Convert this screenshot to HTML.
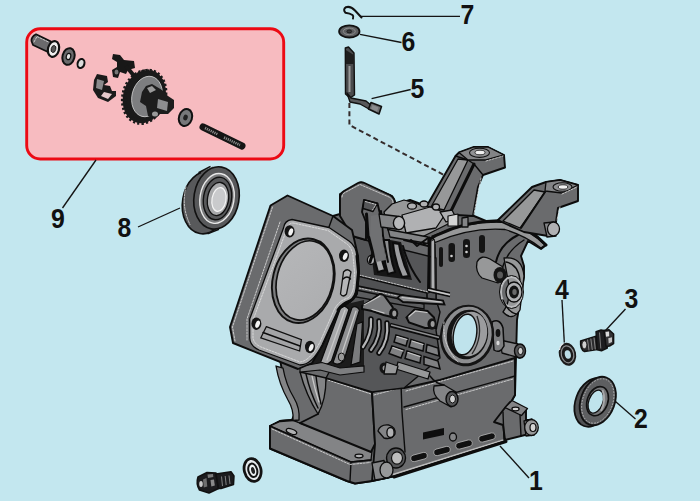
<!DOCTYPE html>
<html>
<head>
<meta charset="utf-8">
<title>Crankcase parts diagram</title>
<style>
html,body{margin:0;padding:0;background:#c3e7ef;}
body{width:700px;height:501px;overflow:hidden;font-family:"Liberation Sans",sans-serif;}
svg{display:block;}
.lbl{font-family:"Liberation Sans",sans-serif;font-weight:bold;font-size:27px;fill:#111;}
.ld{stroke:#141414;stroke-width:1.35;fill:none;}
.d{fill:#6a6b6d;stroke:#0c0c0c;stroke-width:1.9;stroke-linejoin:round;}
.d2{fill:#555658;stroke:#0c0c0c;stroke-width:1.4;stroke-linejoin:round;}
.m{fill:#838486;stroke:#0c0c0c;stroke-width:1.3;stroke-linejoin:round;}
.m2{fill:#979899;stroke:#0c0c0c;stroke-width:1.3;stroke-linejoin:round;}
.l{fill:#b0b1b3;stroke:#0c0c0c;stroke-width:1.3;stroke-linejoin:round;}
.w{fill:#d4d4d4;stroke:#0c0c0c;stroke-width:1.2;stroke-linejoin:round;}
.k{fill:#141414;stroke:none;}
.ln{fill:none;stroke:#0c0c0c;stroke-width:1.4;stroke-linecap:round;stroke-linejoin:round;}
.l2{fill:none;stroke:#0c0c0c;stroke-width:2;stroke-linecap:round;stroke-linejoin:round;}
.lt{fill:none;stroke:#0c0c0c;stroke-width:3;stroke-linecap:round;stroke-linejoin:round;}
.hl{fill:none;stroke:#e2e2e2;stroke-width:0.8;stroke-dasharray:2 1.3;stroke-linecap:round;}
.hs{fill:none;stroke:#c9c9c9;stroke-width:1.2;stroke-linecap:round;}
</style>
</head>
<body>
<svg width="700" height="501" viewBox="0 0 700 501">
<defs>
<linearGradient id="bore" x1="0" y1="0" x2="1" y2="1">
<stop offset="0" stop-color="#b6b7b9"/><stop offset="1" stop-color="#acadaf"/>
</linearGradient>
</defs>
<rect x="0" y="0" width="700" height="501" fill="#c3e7ef"/>
<g id="pinkbox">
<rect x="26.700" y="28.700" width="257" height="130.300" rx="13.500" ry="13.500" fill="#f7bbc0" stroke="#ec0a14" stroke-width="2.900"/>
</g>
<g id="leaders">
<path class="ld" d="M96 160 L62.500 208"/>
<path class="ld" d="M138 227 L180 208"/>
<path class="ld" d="M361 16.400 L460 16.400"/>
<path class="ld" d="M360 34.4 L401.5 42.5"/>
<path class="ld" d="M371.6 98.7 L410.7 89.5"/>
<path class="ld" d="M562 300 L564.300 342.500"/>
<path class="ld" d="M625.500 309 L605.500 330.500"/>
<path class="ld" d="M615.500 401.500 L635.500 419"/>
<path class="ld" d="M500 446 L529 478"/>
<path d="M349.400 103 L349.400 125 L445 175.500" fill="none" stroke="#352c2c" stroke-width="2" stroke-dasharray="5 3.200"/>
</g>

<g id="engine">
<!-- ===== main body silhouette ===== -->
<path class="d" d="M333 216 L340 214 L340 194 L361 182.5 L392 196 L396 204 L410 200 L426 206 L440 212 L474 216 L486 221 L506 224 L524 232 L545 246 L541 249 L528 241 L521 256 L524 266 L524 277 L517 320 L515 395 L511 402 L505 440 L395 476 L372 481 L355 483.5 L347 481 L270 448.5 L270 426 L280 421 L292 420 L296 411 L290 395 L283 375 L280 360 Z"/>


<!-- ===== base plate ===== -->
<path class="d" d="M270 426 L280 421 L292 420 L352 446 L372 443 L396 452 L396 470 L372 481 L355 483.500 L347 481 L270 448.500 Z"/>
<path class="m" d="M270 426 L280 421.500 L293 420.500 L372 451 L371 460 L351 462 Z" fill="#6a6b6d"/>
<path class="ln" d="M270 426 L351 462 L371 460 M351 462 L350 481"/>
<path class="hl" d="M272 429 L350 464.500 L370 462.500"/>
<ellipse cx="291.500" cy="431.500" rx="5.500" ry="2.400" class="l" transform="rotate(20 291.500 431.500)"/>
<ellipse cx="359" cy="456" rx="4" ry="1.800" class="l"/>
<!-- front panel -->
<path class="d" d="M326 378 L372 392 L375 444 L371 452 L300 423 L318 414 Z"/>
<path class="hl" d="M328 380 L371 394"/>
<!-- web / left wall -->
<path class="m" d="M276 366 L283 368 Q286 385 294 398 Q300 408 299 420 L293 420.500 Q294 410 288 400 Q279 384 276 366 Z" fill="#8a8b8d"/>
<path class="m" d="M300 372 Q306 395 318 414 Q326 400 326 378 Z" fill="#6c6d6f"/>
<path class="ln" d="M306 374 Q310 392 318 408 M316 376 Q318 392 321 404"/>
<path class="hs" d="M312 376 Q315 390 319 402" stroke="#ececec" stroke-width="1.600"/>
<!-- right big panel -->
<path class="d" d="M372 392 L401 384 L404 388 L440 380 L515 358 L515 395 L511 402 L505 440 L395 476 L372 481 L375 444 Z"/>
<path class="ln" d="M401 384 L402 412 L405 452"/>
<path class="hl" d="M374 395 L400 388 M406 391 L513 361"/>
<path class="ln" d="M404 407 L515 376"/>
<path class="hl" d="M406 409.500 L513 379"/>
<!-- slots -->
<g fill="#101010" stroke="#bdbdbd" stroke-width="0.700">
<rect x="-8.500" y="-3.300" width="17" height="6.600" rx="3.200" transform="translate(419 457) rotate(-15)"/>
<rect x="-8.500" y="-3.300" width="17" height="6.600" rx="3.200" transform="translate(442 451) rotate(-15)"/>
<rect x="-8.500" y="-3.300" width="17" height="6.600" rx="3.200" transform="translate(464 444.500) rotate(-15)"/>
<rect x="-8.500" y="-3.300" width="17" height="6.600" rx="3.200" transform="translate(487 437.500) rotate(-15)"/>
</g>
<path d="M393 474.500 L505 439.500" stroke="#bcbcbc" stroke-width="1.600" fill="none"/>
<path class="lt" d="M394 477 L506 441.500" stroke-width="2.200"/>
<path d="M423 432.500 L444 428 L444 435 L423 439.500 Z" fill="#0e0e0e"/>
<ellipse cx="453" cy="437" rx="3.500" ry="4" class="m"/>
<!-- plug on left -->
<path class="m" d="M378 431 Q380 424 389 425 Q396 427 395 434 Q392 440 384 438 Z"/>
<ellipse cx="390.500" cy="432.500" rx="3.600" ry="5" class="l"/>
<!-- lower-left bosses -->
<ellipse cx="396" cy="458" rx="9.500" ry="10" class="d2"/>
<ellipse cx="397" cy="458" rx="5.500" ry="6.200" fill="#bdbdbd" stroke="#111" stroke-width="1.200"/>
<path class="m" d="M372 463 L384 460.500 L388 478 L375 480 Z"/>
<ellipse cx="386.500" cy="470" rx="6.500" ry="8" class="m2"/>
<!-- right foot -->
<path class="d" d="M494 422 L504 409 L510 402 L526 410 L526 420 L529 420 L529 434 L505 440 L503 425 Z"/>
<path class="m" d="M505 407.500 L512 400.500 L527.500 408.500 L521.500 415.500 Z"/>
<ellipse cx="515.500" cy="409" rx="3.600" ry="1.800" class="w"/>
<path class="ln" d="M503 412 L504 440 M520 415 L521 436"/>
<path class="m" d="M524 421 L532 419 L534 435 L526 436 Z"/>
<ellipse cx="531.500" cy="427.500" rx="6.800" ry="8" class="m2"/>
<ellipse cx="533" cy="427.500" rx="3" ry="4" class="w"/>
<!-- stubs -->
<path class="m" d="M434 386 Q432 394 440 401 L451 407 L456 392 L444 385 Z"/>
<ellipse cx="452" cy="399" rx="6" ry="7.500" class="d2"/><ellipse cx="452.500" cy="399" rx="3" ry="4" fill="#cfcfcf" stroke="#111" stroke-width="1"/>
<path class="ln" d="M430 376 Q436 384 444 385"/>
<path class="m" d="M500 340 L518 344 L520 358 L502 353 Z"/>
<ellipse cx="520" cy="351" rx="5.500" ry="7" class="d2"/><ellipse cx="520.500" cy="351" rx="2.600" ry="3.600" fill="#cfcfcf" stroke="#111" stroke-width="1"/>

<!-- ===== cover: top strip and curves ===== -->
<path class="m2" d="M432 236 Q470 220 506 222.500 Q530 230 545 245 L541 248 Q526 236 505 229.500 Q470 227 435 242.500 Z" fill="#8a8b8d"/>
<path class="lt" d="M424 244 Q430 238.500 436 235.500 Q470 219 506 221 Q530 228 546 245"/>
<path class="l2" d="M518 235 Q500 244 496 262"/>
<path class="ln" d="M524 240 Q508 250 503 266"/>
<path class="ln" d="M435 244 L436 300"/>
<!-- slots on cover -->
<g fill="#141414">
<rect x="448.500" y="243" width="6.500" height="19" rx="3"/>
<rect x="463" y="239" width="7" height="19" rx="3.300"/>
<rect x="479" y="235" width="6" height="18" rx="3"/>
<rect x="439" y="247" width="4" height="20" rx="2"/>
</g>
<g fill="#d0d0d0"><circle cx="451.500" cy="256" r="1.300"/><circle cx="466.500" cy="246" r="1.300"/><circle cx="466.500" cy="252" r="1.300"/></g>
<!-- hex boss -->
<path class="m2" d="M477 262 Q481 254 490 259 L503 267 L498 283 L482 278 Q475 272 477 262 Z"/>
<ellipse cx="500" cy="275" rx="6.500" ry="8" class="k"/><ellipse cx="500" cy="275" rx="3" ry="3.600" fill="#5a5a5a"/>
<!-- right ring stack -->
<path class="m2" d="M504 258 Q522 256 524 276 L520 310 Q512 322 503 312 Q512 300 508 280 Z"/>
<ellipse cx="511.500" cy="292" rx="10.500" ry="15" fill="none" stroke="#b9babc" stroke-width="2"/>
<ellipse cx="511.500" cy="292" rx="12" ry="16.500" fill="none" stroke="#0c0c0c" stroke-width="1"/>
<ellipse cx="514" cy="292" rx="8" ry="10" class="l"/>
<ellipse cx="514" cy="292" rx="5" ry="6.500" class="k"/><ellipse cx="514.500" cy="292" rx="2.200" ry="3" fill="#6a6a6a"/>
<path class="ln" d="M506 262 Q518 264 520 280 M503 300 Q508 312 516 314"/>

<path d="M492 322 Q500 318 503 328 L504 346 Q500 354 494 350 Z" fill="#7c7d7f" stroke="#0c0c0c" stroke-width="1.500"/>
<ellipse cx="498" cy="333" rx="2.400" ry="4" class="k"/>
<ellipse cx="498" cy="343" rx="1.600" ry="2.200" fill="#d8d8d8"/>
<!-- ===== bearing opening ===== -->
<ellipse cx="467" cy="335.500" rx="27" ry="31" class="k" transform="rotate(12 467 335.500)"/>
<ellipse cx="467" cy="335" rx="24.500" ry="28.500" fill="#8d8e90" transform="rotate(12 467 335)"/>
<ellipse cx="467.500" cy="334.500" rx="20.500" ry="25" class="k" transform="rotate(12 467.500 334.500)"/>
<ellipse cx="469.500" cy="334" rx="17.500" ry="22.500" fill="#9b9c9e" transform="rotate(12 469.500 334)"/>
<ellipse cx="465" cy="334.500" rx="11.500" ry="20.500" fill="#bfe3ec" stroke="#111" stroke-width="1.400" transform="rotate(10 465 334.500)"/>
<path d="M477 316 Q484 336 472 354" fill="none" stroke="#2a2a2a" stroke-width="1.300"/>
<path class="hl" d="M444 322 Q442 345 458 362"/>

<!-- ===== mid block (between head and cover) ===== -->
<path class="d2" d="M352 236 L372 242 L436 258 L436 300 L440 312 L436 330 L440 358 L404 388 L372 392 L326 378 L340 352 Z" fill="#727375"/>
<!-- fins right of head -->
<g>
<path d="M338 306 L364 300 L364 366 L300 372 L300 366 L322 345 Z" fill="#1c1c1c"/>
<path d="M340.500 308 Q345 304 349 309.500 L331.500 361 Q326 367 320.500 362.500 Z" fill="#a6a7a9" stroke="#0c0c0c" stroke-width="1.300"/>
<path d="M352 307.500 Q356.500 305 359.500 310 L344 360.500 Q338 366.500 333 362.500 Z" fill="#8e8f91" stroke="#0c0c0c" stroke-width="1.300"/>
<path d="M357 324 L362.500 322 L360 362 L351 365 Z" fill="#7a7b7d" stroke="#0c0c0c" stroke-width="1.200"/>
<path class="hs" d="M345 310 L327 360 M356 311 L340 359" stroke="#dcdcdc" stroke-width="1"/>
<ellipse cx="341.500" cy="357" rx="3.200" ry="4" fill="#9a9a9a" stroke="#111" stroke-width="1"/>
<path d="M300 366.500 L322 362.500 L340 368 L364 366 L364 372 L340 375 L320 370 L300 372 Z" fill="#7d7e80" stroke="#0c0c0c" stroke-width="1.200"/>
</g>
<!-- pushrod / valve guides -->
<path d="M369 236 L401 242 L412 280 L374 275 Z" fill="#161616"/>
<path d="M373 238 L379 237 Q380 256 385 270 L378 272 Q373 256 373 238 Z" fill="#a6a7a9" stroke="#0c0c0c" stroke-width="2"/>
<path d="M383 240 L389 240 Q390 258 395 272 L388 274 Q383 258 383 240 Z" fill="#8e8f91" stroke="#0c0c0c" stroke-width="2"/>
<path d="M393 243 L399 244 Q402 262 409 276 L402 277 Q395 262 393 243 Z" fill="#9c9d9f" stroke="#0c0c0c" stroke-width="2"/>
<path class="l2" d="M403 246 Q408 266 420 282 M404 240 L428 246"/>
<path d="M431 241 L434.500 239.500 L435 290 L431 290 Z" fill="#b0b1b3" stroke="#0c0c0c" stroke-width="0.800"/>
<path class="lt" d="M429.500 238 L428.500 292"/>
<ellipse cx="371" cy="260" rx="3.600" ry="4.500" class="l"/>
<!-- top fin band -->
<path d="M358 276 L427 293 L427 300 L358 286 Z" fill="#505153" stroke="#0c0c0c" stroke-width="1.600"/>
<path d="M356 290 L424 304 L424 309 L356 297 Z" fill="#5c5d5f" stroke="#0c0c0c" stroke-width="1.300"/>
<path class="hl" d="M359 275 L428 292 M359 288 L426 302"/>
<!-- ribs mid -->
<!-- lug 1 -->
<path d="M362 306 L372 299.500 L379.500 294 Q384 294 386 298 L392.500 307 L396 318 L383.500 315 L372 311 L362 309 Z" fill="#7b7c7e" stroke="#0c0c0c" stroke-width="2"/>
<path class="hs" d="M364 305 L373 300 L380 296 M372 309.500 L384 313" stroke="#cfcfcf"/>
<ellipse cx="393.700" cy="313.500" rx="4.600" ry="5.700" class="k"/><ellipse cx="394.300" cy="313.500" rx="2" ry="3" fill="#9c9c9c"/>
<!-- elongated rib -->
<path d="M397.500 298 Q400 294.500 404 295.400 L443 300.500 L444.500 304.500 L403 302 Z" fill="#8c8d8f" stroke="#0c0c0c" stroke-width="1.800"/>
<path class="hs" d="M402 297.500 L441 302" stroke="#d6d6d6" stroke-width="1"/>
<path d="M428 288 L450 293 M428 291.500 L450 296.500" stroke="#0c0c0c" stroke-width="1.600" fill="none"/>
<path d="M428 289.800 L450 294.800" stroke="#c9c9c9" stroke-width="1.400" fill="none"/>
<!-- lug 2 -->
<path d="M406.500 317.500 L414.500 309.500 L427.500 311 L434 317.500 L436 328 L425 328 L409 322.500 Z" fill="#77787a" stroke="#0c0c0c" stroke-width="2"/>
<path class="hs" d="M409 316.500 L415.500 311 L427 312.500" stroke="#cfcfcf"/>
<ellipse cx="432" cy="324" rx="4.600" ry="5.700" class="k"/><ellipse cx="432.600" cy="324" rx="2" ry="3" fill="#9c9c9c"/>
<!-- strut between lugs -->
<path d="M390 325 L440 338" stroke="#0c0c0c" stroke-width="4.500" fill="none"/>
<path d="M391 325 L439 337.500" stroke="#8e8f91" stroke-width="1.600" fill="none"/>
<!-- curved tubes -->
<g fill="none" stroke-linecap="round">
<path d="M371 319 Q372 334 363 347" stroke="#0c0c0c" stroke-width="5.500"/>
<path d="M371 319 Q372 334 363 347" stroke="#b4b5b7" stroke-width="2.200"/>
<path d="M379 321 Q381 337 371 350" stroke="#0c0c0c" stroke-width="5.500"/>
<path d="M379 321 Q381 337 371 350" stroke="#a2a3a5" stroke-width="2.200"/>
<path d="M387 323 Q389 340 379 353" stroke="#0c0c0c" stroke-width="5.500"/>
<path d="M387 323 Q389 340 379 353" stroke="#b4b5b7" stroke-width="2.200"/>
</g>
<!-- radiating ribs -->
<g stroke="#0c0c0c" stroke-width="1.500" fill="#808183">
<path d="M396 335 L408 338.500 L406 346 L394 342 Z"/>
<path d="M411 339.500 L424 343.500 L423 351 L409 347 Z"/>
<path d="M427 344.500 L438 348 L439 356 L426 352 Z"/>
<path d="M392 346 L404 350 L401 358 L389 353.500 Z"/>
<path d="M407 351 L421 355.500 L420 363 L405 358.500 Z"/>
<path d="M424 356.500 L438 361 L440 369 L424 364.500 Z"/>
</g>
<path class="hs" d="M397 336.500 L407 339.500 M412 341 L423 344.500 M393 347.500 L403 351 M408 352.500 L420 356.500" stroke="#cdcdcd" stroke-width="0.900"/>
<path class="m2" d="M398 362 L430 372 L428 379 L396 369 Z" fill="#7d7e80"/>
<ellipse cx="384" cy="368" rx="4.500" ry="5.500" class="k"/><ellipse cx="384.500" cy="368" rx="2" ry="2.600" fill="#9a9a9a"/>
<path class="m2" d="M386 362 L398 366 L396 374 L384 374 Z" fill="#9a9b9d"/>
<path class="ln" d="M352 236 L356 290"/>

<!-- ===== ARM 2 (right) ===== -->
<path class="d" d="M498 220 L532 187 L546 182 L560 180 L578 185 L578 201 L558 208 L556 222 L548 236 L524 232 L506 224 Z"/>
<path class="m2" d="M503 221 L534 190 L545 192 L520 228 Z" stroke-width="1"/>
<path class="l2" d="M545 192 L521 228"/>
<path class="m" d="M546 182 L560 180 L578 185 L562 193 L545 191 Z" stroke-width="1.2"/>
<ellipse cx="562.5" cy="187" rx="9.5" ry="4.3" fill="#909193" stroke="#111" stroke-width="1.1"/>
<ellipse cx="563" cy="187" rx="4.8" ry="2.2" fill="#f0f0f0" stroke="#111" stroke-width="0.8"/>
<path class="hl" d="M562 194 L577 187 M560 207 L557 220"/>
<!-- knob -->
<path class="m" d="M544 223 L554 222 L556 236 L547 237 Z"/>
<ellipse cx="553.500" cy="229" rx="6" ry="7" class="l"/>

<!-- ===== ARM 1 (left) ===== -->
<path class="d" d="M425 209 L455.5 156 L459 152.5 L474 147 L488 147 L504 155 L505 167.5 L483 175 L478 187 L473 216 L440 214 Z"/>
<path class="m2" d="M431 207 L458 159 L468 160 L444 210 Z" stroke-width="1"/>
<path class="lt" d="M474 164 L450 213"/>
<path class="ln" d="M455.5 156 L468 160 L474 164 L483 175"/>
<path class="m" d="M459 152.5 L474 147 L488 147 L504 155 L486 160 L468 160 Z" stroke-width="1.2"/>
<ellipse cx="479.5" cy="152.8" rx="10" ry="4.6" fill="#909193" stroke="#111" stroke-width="1.1"/>
<ellipse cx="480" cy="152.5" rx="5" ry="2.3" fill="#f0f0f0" stroke="#111" stroke-width="0.8"/>
<path class="hl" d="M486 161 L503 156 M481 178 L474 214"/>

<!-- ===== upper-left boss ===== -->
<path class="d" d="M340 216 L340 198 Q340 193.500 344 191 L358 183 Q361 181.500 364.500 183 L390 195 Q395 198 395 203 L395 213 L381 218 L377.500 203.500 L364 200 L362 212 L366 222 L366 240 L352 236 Z"/>
<path class="d2" d="M364 200 L377.500 203.500 L373 211.500 L363 208.500 Z"/>
<path class="hl" d="M342 197 Q342 194 345 192.500 L360 184.500 L389 197 Q393 199 393 203"/>
<path class="hl" d="M365.500 201.500 L376 204.500 L372.500 210"/>
<path class="lt" d="M366.500 214 L368 236 L373 253 L370 262"/>
<path class="l2" d="M381 211 L383 236 L388 262"/>
<path d="M371 216 L380 214 L382 236 L386 260 L376 262 L374 252 L370 236 Z" fill="#707173"/>
<!-- middle top clutter -->
<path class="m2" d="M384 212 L392 204 L404 200 L418 204 L430 207 L440 212 L452 214 L452 222 L436 230 L420 238 L404 236 L388 230 Z" fill="#8a8b8d"/>
<path class="l" d="M402 215 L430 207 L446 213 L436 228 L406 233 Z" fill="#9c9d9f"/>
<path class="m" d="M379 214 L399 216.500 L399 229.500 L381 227 Z" fill="#6f7072"/>
<ellipse cx="399" cy="223" rx="5.600" ry="6.600" fill="#b8b9bb" stroke="#0c0c0c" stroke-width="1.400"/>
<path class="m" d="M388 229.500 L428 237 L428 243.500 L390 237 Z" fill="#6c6d6f"/>
<path class="l2" d="M411 240 L417 246 L428 238"/>
<ellipse cx="412" cy="206" rx="4.500" ry="3.200" class="l"/>
<ellipse cx="424" cy="204" rx="4" ry="3" class="l"/>
<ellipse cx="436" cy="207" rx="3.500" ry="3" class="l"/>
<path class="l" d="M440 212 L452 210 L456 218 L446 222 Z"/>
<path class="w" d="M448 216 L458 214 L458 226 L448 226 Z"/>
<path class="m" d="M462 218 L468 217 L468 227 L462 227 Z"/>
<!-- ===== cylinder head slab ===== -->
<path class="d" d="M270.500 205.500 L287.500 195.500 L333 216 L352 230 L358 256 L359 272 L357 294 L350 302 L339 309 L322 346 L312 363 L298 369 L233 343 L230 327 Z"/>
<path class="hl" d="M272.500 207 L232.500 327 L235 341 M280 222 L247 319 L247 340"/>
<path class="ln" d="M333 216 L329 227"/>
<!-- gasket face -->
<path class="m2" style="fill:#a9aaac" d="M283.500 228 Q284.500 220.500 292 219.500 L329 227.500 L349 241 Q356 246 357 256 L358.500 272 L357 288 Q356 298 350 301 Q342 304 338 310 L322 345 Q312 365 300 365 L259 350 Q250 346 249.700 338 L249.700 319 Z"/>
<path class="hl" d="M286.500 230 L253 320 L253 338 Q254 344 261 347 L300 362 Q310 361 320 342 L335 308 Q340 300 348 298 Q353 294 354 284 L354.500 272 L353 256 Q352 248 347 244 L328 230.500 L293 223 Q288 223 286.500 230"/>
<path class="lt" d="M357 256 L358.500 272 L357 288 Q356 298 350 301 Q342 304 338 310" stroke-width="2.400"/>
<!-- bore -->
<ellipse cx="303.300" cy="280.800" rx="30.500" ry="42.800" transform="rotate(14 303.300 280.800)" fill="#7c7d7f" stroke="#111" stroke-width="1.900"/>
<ellipse cx="304.800" cy="280.400" rx="27.900" ry="40.200" transform="rotate(14 304.800 280.400)" fill="url(#bore)" stroke="#111" stroke-width="1.700"/>
<!-- bolt holes -->
<g>
<ellipse cx="289.600" cy="231.400" rx="5" ry="6.200" class="k"/><ellipse cx="290.800" cy="232" rx="2.100" ry="3.800" fill="#f2f2f2" transform="rotate(20 290.800 232)"/>
<ellipse cx="344" cy="255.800" rx="5" ry="6.200" class="k"/><ellipse cx="345.200" cy="256.400" rx="2.100" ry="3.800" fill="#f2f2f2" transform="rotate(20 345.200 256.400)"/>
<ellipse cx="256.400" cy="323.700" rx="5" ry="6.200" class="k"/><ellipse cx="257.600" cy="324.300" rx="2.100" ry="3.800" fill="#f2f2f2" transform="rotate(20 257.600 324.300)"/>
<ellipse cx="310" cy="347" rx="5" ry="6.200" class="k"/><ellipse cx="311.200" cy="347.600" rx="2.100" ry="3.800" fill="#f2f2f2" transform="rotate(20 311.200 347.600)"/>
</g>
<!-- slot -->
<path d="M343.500 272 Q347.500 267.500 351 272 L346.500 294 Q343 298 340.500 294 Z" fill="#b5b6b8" stroke="#111" stroke-width="1.3"/>
<path class="ln" d="M343 279 Q347 275 350.500 279" stroke-width="1"/>
<!-- rectangle pad -->
<path d="M266.300 326.700 L301.400 339.600 L299.600 351 L260.800 337.800 Z" fill="#a3a4a6" stroke="#111" stroke-width="1.3"/>
<path class="ln" d="M263 332.500 L300 346" stroke-width="1"/>
</g>

<g id="parts">
<!-- ===== pink box contents ===== -->
<!-- sleeve -->
<path d="M31.500 41 Q31 37 36 34.300 L51 41.500 L48 52 L33 45 Z" fill="#6a6a6c" stroke="#111" stroke-width="1.800" stroke-linejoin="round"/>
<path class="hl" d="M34 42 L37 36.500 L48.500 42"/>
<ellipse cx="53.500" cy="49" rx="5.500" ry="8" fill="#f0f0f0" stroke="#111" stroke-width="2.200" transform="rotate(15 53.500 49)"/>
<ellipse cx="53.500" cy="49" rx="2.300" ry="3.600" fill="#555" stroke="#111" stroke-width="0.800" transform="rotate(15 53.500 49)"/>
<!-- washer a -->
<ellipse cx="68.500" cy="56.500" rx="6" ry="8.500" fill="#6a6a6c" stroke="#111" stroke-width="2" transform="rotate(15 68.500 56.500)"/>
<ellipse cx="68.500" cy="56.500" rx="2.200" ry="3.200" fill="#e5e5e5" stroke="#111" stroke-width="1.200" transform="rotate(15 68.500 56.500)"/>
<!-- small washer b -->
<ellipse cx="81" cy="63.500" rx="3.400" ry="4.600" fill="#ddd" stroke="#111" stroke-width="2" transform="rotate(15 81 63.500)"/>
<!-- clip -->
<path d="M97 74 L107 76 L108 82 L104 85 L110 86 L112 91 L116 91 L116 96 L108 102 L98 98 L93 90 L94 80 Z" fill="#1b1b1b"/>
<path d="M97 79 L104 81 L102 90 L96 88 Z" fill="#8a8a8c"/>
<path d="M104 92 L112 94 L108 99 L101 96 Z" fill="#e6c9cc"/>
<!-- arm piece -->
<path d="M113 54 L120 55 L124 60 L134 61 L135 68 L128 70 L126 74 L120 72 L118 78 L113 77 L112 70 L117 67 L117 62 L112 59 Z" fill="#181818"/>
<path d="M126 66 L139 82" stroke="#181818" stroke-width="4" fill="none"/>
<ellipse cx="116.500" cy="72" rx="2" ry="2.600" fill="#777"/>
<!-- gear -->
<g>
<ellipse cx="143.500" cy="97" rx="20.500" ry="26.500" transform="rotate(14 143.500 97)" fill="#1a1a1a" stroke="#1a1a1a" stroke-width="3.400" stroke-dasharray="2.200 2.100"/>
<ellipse cx="146" cy="95.500" rx="19.500" ry="25.500" transform="rotate(14 146 95.500)" fill="#1a1a1a" stroke="#1a1a1a" stroke-width="3" stroke-dasharray="2.200 2.100"/>
<ellipse cx="147" cy="96.500" rx="15" ry="20.500" transform="rotate(14 147 96.500)" fill="#7d7e80" stroke="#cfcfcf" stroke-width="0.800"/>
<path d="M146 86 L152 84 L162 90 L168 96 L174 100 L174 108 L168 114 L160 114 L156 118 L148 116 L146 106 L140 102 L142 92 Z" fill="#1d1d1d"/>
<path d="M158 99 L168 102 L167 111 L157 108 Z" fill="#8d8e90"/>
<path d="M147 88 L152 86 L156 90 L150 93 Z" fill="#9a9a9a"/>
<ellipse cx="155" cy="114" rx="3" ry="2.500" fill="#9a9a9a"/>
</g>
<!-- washer c -->
<ellipse cx="185.500" cy="117.500" rx="6.500" ry="8.600" fill="#77787a" stroke="#111" stroke-width="2" transform="rotate(18 185.500 117.500)"/>
<ellipse cx="185.500" cy="117.500" rx="2.200" ry="3" fill="#222" transform="rotate(18 185.500 117.500)"/>
<!-- shaft -->
<path d="M203 127 L242 146" stroke="#151515" stroke-width="7" stroke-linecap="round" fill="none"/>
<path d="M205 128 L218 134.500 M224 137.500 L240 145" stroke="#8a8a8a" stroke-width="2.600" stroke-dasharray="1.200 0.900" fill="none"/>

<!-- ===== 8: bearing ===== -->
<g transform="translate(0 -4.500) translate(0 204) scale(1 1.045) translate(0 -204)">
<ellipse cx="205" cy="207" rx="22.500" ry="30" transform="rotate(10 205 207)" fill="#58595b" stroke="#111" stroke-width="1.600"/>
<path d="M201 177.500 L213 172.500 L232 184 L218 231.500 L208 234 Z" fill="#58595b"/>
<path d="M198.500 178.300 L210.500 172.300 M207.500 236.800 L219 232.500" stroke="#111" stroke-width="1.600" fill="none"/>
<ellipse cx="216.500" cy="202.500" rx="22.500" ry="30" transform="rotate(10 216.500 202.500)" fill="#58595b" stroke="#111" stroke-width="1.600"/>
<ellipse cx="217" cy="203" rx="17" ry="24" transform="rotate(10 217 203)" fill="#7a7b7d" stroke="#e8e8e8" stroke-width="1.400"/>
<ellipse cx="217.500" cy="203" rx="14" ry="20.500" transform="rotate(10 217.500 203)" fill="#58595b" stroke="#111" stroke-width="1.400"/>
<ellipse cx="218" cy="203.500" rx="10.500" ry="16" transform="rotate(10 218 203.500)" fill="#a8a9ab" stroke="#111" stroke-width="1.300"/>
<ellipse cx="219" cy="204" rx="7" ry="11.500" transform="rotate(10 219 204)" fill="#c9cacc" stroke="#f4f4f4" stroke-width="1.200"/>
<path class="hl" d="M186 192 Q181 210 190 228"/>
</g>

<!-- ===== 7: clip ===== -->
<path d="M361.500 17.500 L355 10.500 Q350.500 5.800 346 7.200 Q342.500 9.500 345.500 12.800 Q350 13.500 352.500 15 Q354 16.500 353 18.500" fill="none" stroke="#111" stroke-width="2" stroke-linecap="round" stroke-linejoin="round"/>
<!-- ===== 6: washer ===== -->
<ellipse cx="349.300" cy="31.400" rx="10.200" ry="6.100" fill="#5c5d5f" stroke="#111" stroke-width="1.800"/>
<ellipse cx="349.300" cy="31.400" rx="6" ry="3.300" fill="none" stroke="#8a8a8a" stroke-width="1"/>
<ellipse cx="349.300" cy="31.400" rx="2.400" ry="1.500" fill="#3a3a3a" stroke="#111" stroke-width="0.800"/>
<!-- ===== 5: lever ===== -->
<path d="M345.300 48 L348.500 47 L354 53 L354.500 95 L350 98 L345.500 94 Z" fill="#4a4b4d" stroke="#111" stroke-width="1.400" stroke-linejoin="round"/>
<path d="M345.800 50 L353.800 55 L353.800 64 L345.800 64 Z" fill="#1e1e1e"/>
<path d="M349.500 66 L349.500 92" stroke="#9a9a9a" stroke-width="2" fill="none"/>
<path d="M347 93 L351 98 L366 101 L372 106 L369 109 L360 104 L350 102 Z" fill="#58595b" stroke="#111" stroke-width="1.400" stroke-linejoin="round"/>
<path d="M371 102.500 L381.500 106.500 L379 114 L368.500 109 Z" fill="#6c6d6f" stroke="#111" stroke-width="1.600" stroke-linejoin="round"/>
<path d="M372.500 105 L378.500 107.500 L377 111.500 L371 108.800 Z" fill="#8a8b8d"/>

<!-- ===== 4: washer ===== -->
<ellipse cx="567.500" cy="354.300" rx="8.600" ry="11.600" fill="#1b1b1b" transform="rotate(-12 567.500 354.300)"/>
<ellipse cx="567.500" cy="354.300" rx="6.200" ry="8.600" fill="none" stroke="#8c8d8f" stroke-width="1.200" transform="rotate(-12 567.500 354.300)"/>
<ellipse cx="567.800" cy="354.500" rx="3" ry="4.300" fill="#bcdde6" transform="rotate(-12 567.800 354.500)"/>
<path d="M559.500 350 Q560 345 563.500 343.500" stroke="#e9eef0" stroke-width="1.200" fill="none"/>
<!-- ===== 3: bolt ===== -->
<g>
<path d="M580.600 341 L596 336.300 L597.200 349.600 L584.500 351.600 Q580 349.500 580.600 341 Z" fill="#2b2b2d" stroke="#111" stroke-width="1.500" stroke-linejoin="round"/>
<path d="M587.500 339.500 L589 350.500 M590.800 338.500 L592.300 350 M594 337.500 L595.300 349.500" stroke="#8f8f8f" stroke-width="0.900" fill="none"/>
<ellipse cx="584.400" cy="344.800" rx="2.500" ry="4" fill="#d0d0d0" stroke="#111" stroke-width="0.800"/>
<path d="M596 331.600 L601 330 L606.500 331 L607.300 348 L601.500 350.800 L597.200 349.800 Z" fill="#1d1d1f" stroke="#111" stroke-width="1.400" stroke-linejoin="round"/>
<path d="M599.500 332.500 L600.800 348.500" stroke="#7a7a7a" stroke-width="1" fill="none"/>
<path d="M604 330.500 L609 329.800 L613.600 334 L613.600 343.500 L609.500 346 L606 346.500 Z" fill="#333335" stroke="#111" stroke-width="1.500" stroke-linejoin="round"/>
<path d="M605.500 332 L609 331.600 L609.200 336.200 L606 336.800 Z" fill="#dadada"/>
<path d="M608.300 338.200 L612 337.300 L612 342 L608.700 343.500 Z" fill="#c4c4c4"/>
</g>
<!-- ===== 2: seal ===== -->
<g>
<ellipse cx="592.500" cy="402.500" rx="17" ry="25" transform="rotate(20 592.500 402.500)" fill="#505153" stroke="#111" stroke-width="1.800"/>
<ellipse cx="597.800" cy="401" rx="17" ry="25" transform="rotate(20 597.800 401)" fill="#5e5f61" stroke="#111" stroke-width="1.800"/>
<ellipse cx="597.800" cy="401" rx="15" ry="23" transform="rotate(20 597.800 401)" fill="none" stroke="#cfcfcf" stroke-width="0.700" stroke-dasharray="1.600 1.400"/>
<ellipse cx="597.500" cy="401.200" rx="10.300" ry="15" transform="rotate(20 597.500 401.200)" fill="#77787a" stroke="#111" stroke-width="1.600"/>
<ellipse cx="595.800" cy="401.600" rx="7" ry="12" transform="rotate(20 595.800 401.600)" fill="#bfe3ec" stroke="#111" stroke-width="1.300"/>
<path d="M602.500 390 Q606.500 400 601 411" fill="none" stroke="#a6a7a9" stroke-width="2"/>
</g>
<!-- ===== bottom-left bolt & washer ===== -->
<g>
<path d="M198 477 L207 472.500 L216 473 L218.500 488.500 L209 493 L199.500 490 Q195.800 484 198 477 Z" fill="#1c1c1e" stroke="#111" stroke-width="1.600" stroke-linejoin="round"/>
<path d="M203 479.500 L206.500 478 L207.300 486.500 L203.800 487.500 Z" fill="#6f6f6f"/>
<path d="M210.500 480 L214 479.500 L214.800 485.500 L211.300 486.500 Z" fill="#8a8a8a"/>
<path d="M207.500 474.500 L213 474 L213.300 477 L208 478 Z" fill="#7a7a7a"/>
<path d="M216 474 L231 471.800 L234 476 L233.500 484.500 L221 488.500 L218.500 488.500 Z" fill="#1c1c1e" stroke="#111" stroke-width="1.500" stroke-linejoin="round"/>
<path d="M221.500 476.500 L222.500 486 M225.200 476 L226.200 485 M229 475.500 L230 484" stroke="#8c8c8c" stroke-width="0.900" fill="none"/>
<ellipse cx="201" cy="484" rx="1.800" ry="3" fill="#c8c8c8"/>
</g>
<ellipse cx="252.600" cy="470" rx="8.300" ry="11.600" fill="#e6eaed" stroke="#131313" stroke-width="2.800" transform="rotate(-14 252.600 470)"/>
<ellipse cx="252.800" cy="470.300" rx="4.400" ry="6.800" fill="#eef2f4" stroke="#131313" stroke-width="2" transform="rotate(-14 252.800 470.300)"/>
<ellipse cx="253" cy="470.500" rx="1.800" ry="3.600" fill="#222" transform="rotate(-14 253 470.500)"/>
</g>

<g id="labels">
<text class="lbl" transform="translate(460.5,24.2) scale(0.92,1)">7</text>
<text class="lbl" transform="translate(401.5,50.6) scale(0.92,1)">6</text>
<text class="lbl" transform="translate(410.5,97.6) scale(0.92,1)">5</text>
<text class="lbl" transform="translate(51,228.2) scale(0.92,1)">9</text>
<text class="lbl" transform="translate(117.6,236.6) scale(0.92,1)">8</text>
<text class="lbl" transform="translate(555,299) scale(0.92,1)">4</text>
<text class="lbl" transform="translate(624.5,308) scale(0.92,1)">3</text>
<text class="lbl" transform="translate(634,427.6) scale(0.92,1)">2</text>
<text class="lbl" transform="translate(529,490) scale(0.92,1)">1</text>
</g>

</svg>
</body>
</html>
